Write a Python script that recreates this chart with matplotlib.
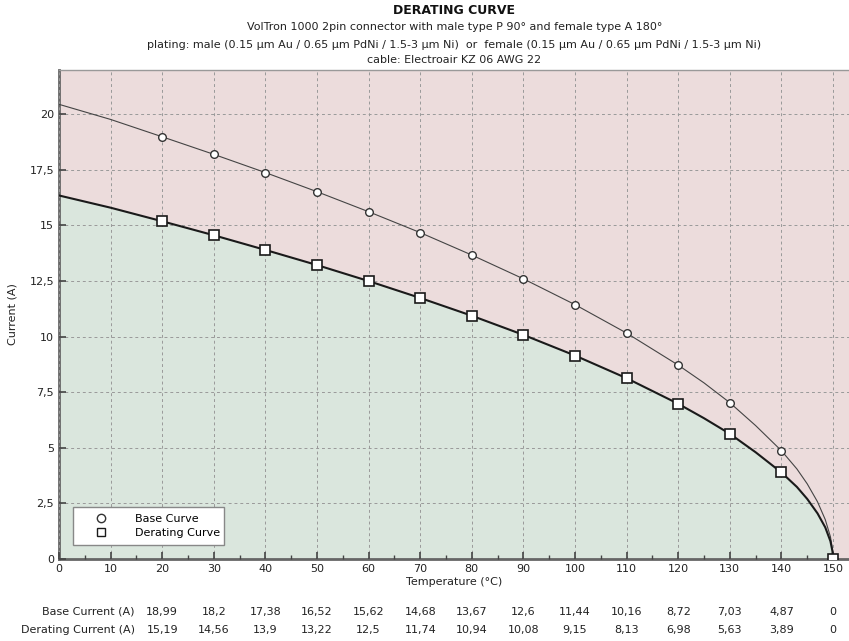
import matplotlib
matplotlib.use('Agg')
import matplotlib.pyplot as plt
from matplotlib.lines import Line2D
from matplotlib.ticker import FuncFormatter, MultipleLocator
import matplotlib.transforms as mtransforms

TitleSize = 9
TextSize = 8
NumberSize = 8

# Puntos medidos (tabla de abajo)
temps = [20, 30, 40, 50, 60, 70, 80, 90, 100, 110, 120, 130, 140, 150]
base = [18.99, 18.2, 17.38, 16.52, 15.62, 14.68, 13.67, 12.6, 11.44, 10.16, 8.72, 7.03, 4.87, 0]
derating = [15.19, 14.56, 13.9, 13.22, 12.5, 11.74, 10.94, 10.08, 9.15, 8.13, 6.98, 5.63, 3.89, 0]
base_txt = ['18,99', '18,2', '17,38', '16,52', '15,62', '14,68', '13,67', '12,6', '11,44',
            '10,16', '8,72', '7,03', '4,87', '0']
der_txt = ['15,19', '14,56', '13,9', '13,22', '12,5', '11,74', '10,94', '10,08', '9,15',
           '8,13', '6,98', '5,63', '3,89', '0']

# Curvas continuas
t_curve = [0, 10, 20, 30, 40, 50, 60, 70, 80, 90, 100, 110, 120, 125, 130, 135, 140,
           143, 145, 147, 148.5, 149.5, 149.9, 150]
base_curve = [20.45, 19.77, 18.99, 18.2, 17.38, 16.52, 15.62, 14.68, 13.67, 12.6, 11.44,
              10.16, 8.72, 7.92, 7.03, 6.0, 4.87, 4.05, 3.38, 2.57, 1.77, 1.0, 0.42, 0]
der_curve = [16.35, 15.8, 15.19, 14.56, 13.9, 13.22, 12.5, 11.74, 10.94, 10.08, 9.15,
             8.13, 6.98, 6.33, 5.63, 4.8, 3.89, 3.24, 2.7, 2.05, 1.42, 0.8, 0.34, 0]

pink = '#ecdcdc'
green = '#dae6dd'

fig = plt.figure(figsize=(8.49, 6.41), dpi=100)
ax = fig.add_axes([0.0695, 0.128, 0.9305, 0.763])
ax.set_facecolor(pink)

ax.fill_between(t_curve, 0, der_curve, color=green, lw=0, zorder=1)

ax.plot(t_curve, base_curve, '-', color='#444444', lw=0.8, zorder=3)
ax.plot(t_curve, der_curve, '-', color='#1a1a1a', lw=1.5, zorder=3)
ax.plot(temps, base, 'o', ms=5.5, mfc='white', mec='#333333', mew=1.0, ls='none', zorder=4)
ax.plot(temps, derating, 's', ms=6.5, mfc='white', mec='#1a1a1a', mew=1.2, ls='none', zorder=4)

ax.set_xlim(0, 153.1)
ax.set_ylim(0, 22.0)
ax.xaxis.set_major_locator(MultipleLocator(10))
ax.xaxis.set_minor_locator(MultipleLocator(5))
ax.yaxis.set_major_locator(MultipleLocator(2.5))
ax.yaxis.set_major_formatter(FuncFormatter(lambda v, p: ('%g' % v).replace('.', ',')))

ax.grid(which='major', color='#999999', linestyle=(0, (3, 3)), linewidth=0.7, zorder=2)
ax.set_axisbelow(False)
for l in ax.get_xgridlines() + ax.get_ygridlines():
    l.set_zorder(2)

ax.tick_params(which='both', direction='in', colors='#444444', labelcolor='#222222',
               labelsize=NumberSize, top=False, right=False)
ax.tick_params(which='major', length=5, width=1.2)
ax.tick_params(which='minor', length=3, width=1.0)
ax.spines['left'].set_color('#666666')
ax.spines['left'].set_linewidth(2)
ax.spines['bottom'].set_color('#666666')
ax.spines['bottom'].set_linewidth(2)
ax.spines['top'].set_color('#999999')
ax.spines['top'].set_linewidth(1)
ax.spines['right'].set_visible(False)

ax.set_xlabel('Temperature (°C)', fontsize=TextSize, color='#222222', labelpad=2)
ax.set_ylabel('Current (A)', fontsize=TextSize, color='#222222')
ax.yaxis.set_label_coords(-0.052, 0.5)

# Títulos
cx = 0.535
fig.text(cx, 0.984, 'DERATING CURVE', ha='center', va='center', fontsize=TitleSize,
         fontweight='bold', color='#111111')
fig.text(cx, 0.958, 'VolTron 1000 2pin connector with male type P 90° and female type A 180°',
         ha='center', va='center', fontsize=TextSize, color='#222222')
fig.text(cx, 0.930, 'plating: male (0.15 µm Au / 0.65 µm PdNi / 1.5-3 µm Ni)  or  female '
         '(0.15 µm Au / 0.65 µm PdNi / 1.5-3 µm Ni)',
         ha='center', va='center', fontsize=TextSize, color='#222222')
fig.text(cx, 0.906, 'cable: Electroair KZ 06 AWG 22', ha='center', va='center',
         fontsize=TextSize, color='#222222')

# Leyenda
handles = [Line2D([], [], marker='o', ls='none', ms=6, mfc='white', mec='#333333'),
           Line2D([], [], marker='s', ls='none', ms=6, mfc='white', mec='#1a1a1a')]
leg = ax.legend(handles, ['Base Curve', 'Derating Curve'], loc='lower left',
                bbox_to_anchor=(0.0177, 0.0286, 0.191, 0.088), borderaxespad=0,
                fontsize=TextSize, frameon=True, fancybox=False, handlelength=3.8,
                handletextpad=1.2, borderpad=0.6, labelspacing=0.4, mode='expand')
leg.get_frame().set_edgecolor('#888888')
leg.get_frame().set_linewidth(1.0)
leg.get_frame().set_facecolor('white')
leg.get_frame().set_alpha(1)
leg.set_zorder(10)

# Tabla inferior
trans = mtransforms.blended_transform_factory(ax.transData, fig.transFigure)
y1 = 1 - 612 / 641.
y2 = 1 - 630 / 641.
fig.text(135 / 849., y1, 'Base Current (A)', ha='right', va='center', fontsize=TextSize,
         color='#222222')
fig.text(135 / 849., y2, 'Derating Current (A)', ha='right', va='center', fontsize=TextSize,
         color='#222222')
for t, b, d in zip(temps, base_txt, der_txt):
    ax.text(t, y1, b, transform=trans, ha='center', va='center', fontsize=TextSize,
            color='#222222', clip_on=False)
    ax.text(t, y2, d, transform=trans, ha='center', va='center', fontsize=TextSize,
            color='#222222', clip_on=False)

fig.savefig('out.png', dpi=100)
